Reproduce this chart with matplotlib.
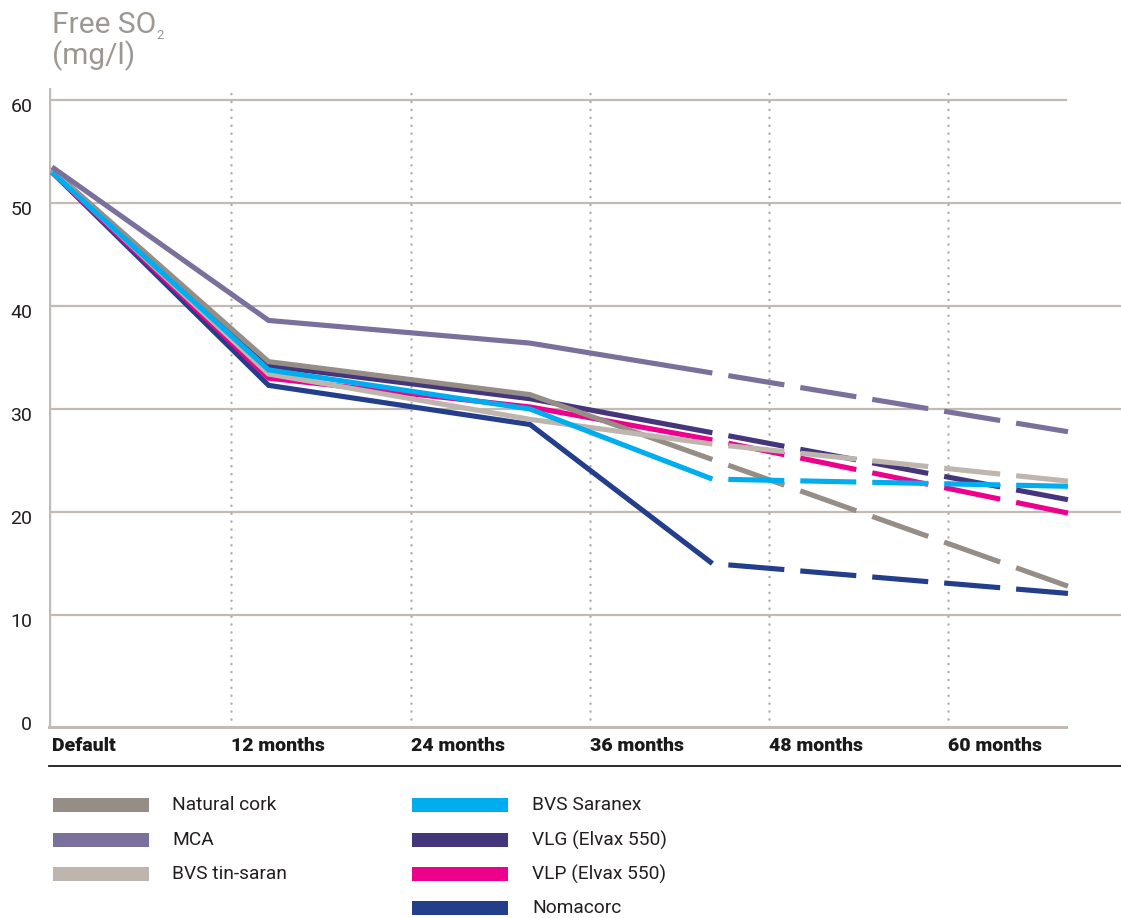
import matplotlib
matplotlib.use("Agg")
import matplotlib.pyplot as plt
import matplotlib.transforms as mtrans
from matplotlib.patches import Rectangle
import numpy as np

plt.rcParams['font.family'] = ['Roboto', 'DejaVu Sans']
plt.rcParams['lines.scale_dashes'] = False

# measurement points (months) and free SO2 values (mg/l)
months = [0, 14.5, 32, 44.2, 68]
natural_cork = [53.2, 34.6, 31.4, 25.1, 12.8]
mca = [53.5, 38.6, 36.4, 33.5, 27.8]
tin_saran = [53.1, 33.4, 29.0, 26.6, 23.0]
saranex = [53.0, 33.8, 30.0, 23.2, 22.5]
vlg = [53.2, 34.2, 31.0, 27.7, 21.2]
vlp = [53.0, 33.0, 30.2, 27.0, 19.9]
nomacorc = [53.0, 32.3, 28.5, 15.0, 12.1]

tick_months = [0, 12, 24, 36, 48, 60]
tick_labels = ["Default", "12 months", "24 months", "36 months", "48 months", "60 months"]
y_ticks = [0, 10, 20, 30, 40, 50, 60]

series = {
    "Natural cork": (natural_cork, "#958d86"),
    "MCA": (mca, "#7b6f9c"),
    "BVS tin-saran": (tin_saran, "#bdb5ae"),
    "BVS Saranex": (saranex, "#00aeef"),
    "VLG (Elvax 550)": (vlg, "#45357a"),
    "VLP (Elvax 550)": (vlp, "#ec008c"),
    "Nomacorc": (nomacorc, "#233e8b"),
}
draw_order = ["Nomacorc", "VLG (Elvax 550)", "VLP (Elvax 550)", "Natural cork",
              "BVS tin-saran", "BVS Saranex", "MCA"]

W, H = 1121, 918
GRID = "#c2bab3"
fig = plt.figure(figsize=(W / 100, H / 100), dpi=100)

def px(x, y):
    # pixel position -> figure fraction
    return x / W, 1 - y / H

ax_l, ax_t = px(49, 88)
ax_r, ax_b = px(1121, 727)
ax = fig.add_axes([ax_l, ax_b, ax_r - ax_l, ax_t - ax_b])
ax.set_xlim(-0.2, 71.55)
ax.set_ylim(-0.87, 61.17)
for s in ax.spines.values():
    s.set_visible(False)

# grid
for v in y_ticks[1:-1]:
    ax.axhline(v, color=GRID, lw=1.6, zorder=1)
ax.plot([-0.2, 67.9], [60, 60], color=GRID, lw=1.6, zorder=1)
ax.plot([-0.2, 67.9], [-0.87, -0.87], color=GRID, lw=2.2, zorder=1, clip_on=False)
ax.axvline(-0.2, color=GRID, lw=2.4, zorder=1)
for m in tick_months[1:]:
    ax.axvline(m, color="#b5aea8", lw=1.8, ls=(0, (0.1, 5.6)),
               dash_capstyle="round", zorder=1)

# lines: solid until the last measured point, dashed for the projection
DASH_ON, DASH_OFF = 40.3, 11.5  # points, measured along x
for name in draw_order:
    vals, col = series[name]
    ax.plot(months[:4], vals[:4], color=col, lw=3.7, zorder=3,
            solid_joinstyle="miter", solid_capstyle="butt")
    p0, p1 = ax.transData.transform([(months[3], vals[3]), (months[4], vals[4])])
    k = np.hypot(*(p1 - p0)) / abs(p1[0] - p0[0])  # keep gaps aligned in x
    ax.plot(months[3:], vals[3:], color=col, lw=3.7, zorder=3,
            ls=(DASH_ON * k, (DASH_ON * k, DASH_OFF * k)), dash_capstyle="butt")

# ticks
ax.set_xticks(tick_months)
ax.set_xticklabels(tick_labels, ha="left", fontsize=14, fontweight="black",
                   color="#1a1a1a")
ax.tick_params(axis="x", length=0, pad=7)
ax.set_yticks(y_ticks)
ax.set_yticklabels([str(v) for v in y_ticks], fontsize=14, color="#231f20")
ax.tick_params(axis="y", length=0, pad=12)
shift = mtrans.ScaledTranslation(0, -5 / 100, fig.dpi_scale_trans)
for lab in ax.get_yticklabels():
    lab.set_transform(lab.get_transform() + shift)

# title
tx, ty = px(52, 33)
t1 = fig.text(tx, ty, "Free SO", fontsize=21.5, color="#9d9791", va="baseline")
fig.canvas.draw()
bb = t1.get_window_extent()
fig.text(bb.x1 / W, ty - 6 / H, "2", fontsize=9.5, color="#9d9791", va="baseline")
tx2, ty2 = px(52, 64)
fig.text(tx2, ty2, "(mg/l)", fontsize=21.5, color="#9d9791", va="baseline")

# separator line under the axis labels
lx0, ly = px(49, 766)
fig.add_artist(plt.Line2D([lx0, 1], [ly, ly], color="#1a1a1a", lw=1.3))

# legend
legend_cols = [["Natural cork", "MCA", "BVS tin-saran"],
               ["BVS Saranex", "VLG (Elvax 550)", "VLP (Elvax 550)", "Nomacorc"]]
col_x = [(53, 172), (412, 532)]
row_y = [805, 840, 874, 908]
for (patch_x, text_x), names in zip(col_x, legend_cols):
    for name, yy in zip(names, row_y):
        col = series[name][1]
        rx, ry = px(patch_x, yy + 7)
        fig.add_artist(Rectangle((rx, ry), 96 / W, 14 / H, color=col,
                                 transform=fig.transFigure, lw=0))
        lx, lyy = px(text_x, yy)
        fig.text(lx, lyy, name, fontsize=13.8, color="#231f20", va="center")

fig.savefig("out.png", dpi=100)
